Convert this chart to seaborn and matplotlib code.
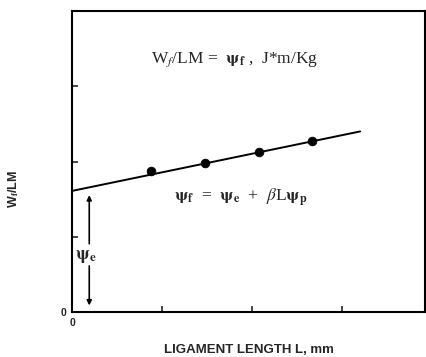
import matplotlib
matplotlib.use('Agg')
import matplotlib.pyplot as plt
import seaborn as sns
import pandas as pd

# measured points and the fitted straight line
lig_length = [0.88, 1.48, 2.08, 2.67]
wf_lm = [1.87, 1.98, 2.13, 2.27]
fit_x = [0.0, 3.2]
fit_y = [1.61, 2.40]
psi_e = 1.61

x_ticks = [0, 1, 2, 3]
y_ticks = [0, 1, 2, 3]
x_tick_labels = ['0', '', '', '']
y_tick_labels = ['0', '', '', '']

sns.set_style('ticks')
plt.rcParams['font.family'] = ['Liberation Sans', 'DejaVu Sans']
plt.rcParams['mathtext.fontset'] = 'stix'

pts = pd.DataFrame({'L': lig_length, 'W': wf_lm})
fit = pd.DataFrame({'L': fit_x, 'W': fit_y})

fig = plt.figure(figsize=(4.27, 3.57), dpi=100)
ax = fig.add_axes([0.169, 0.126, 0.826, 0.843])

sns.lineplot(data=fit, x='L', y='W', color='black', linewidth=1.4, ax=ax)
sns.scatterplot(data=pts, x='L', y='W', color='black', s=40, edgecolor='black', zorder=3, ax=ax)

ax.set_xlim(0, 3.92)
ax.set_ylim(0, 4.0)
ax.set_xticks(x_ticks)
ax.set_xticklabels(x_tick_labels, fontsize=7.5, fontweight='bold')
ax.set_yticks(y_ticks)
ax.set_yticklabels(y_tick_labels, fontsize=7.5, fontweight='bold')
ax.tick_params(direction='in', length=4, width=1.2, pad=4)
for s in ax.spines.values():
    s.set_linewidth(1.5)
    s.set_color('black')

ax.set_xlabel('LIGAMENT LENGTH L, mm', fontsize=9.5, fontweight='bold', labelpad=12)
ax.set_ylabel(r'W$_\mathbf{f}$/LM', fontsize=9, fontweight='bold')
ax.yaxis.set_label_coords(-0.145, 0.41)

ax.text(1.81, 3.36, r'W$_f$/LM =  $\mathbf{\psi_f}$ ,  J*m/Kg', fontsize=12.5,
        family='Liberation Serif', ha='center', va='center')
ax.text(1.88, 1.52, r'$\mathbf{\psi_f}$  =  $\mathbf{\psi_e}$  +  $\beta$L$\mathbf{\psi_p}$', fontsize=12.5,
        family='Liberation Serif', ha='center', va='center')

# double arrow marking the intercept
ax.annotate('', xy=(0.19, psi_e - 0.02), xytext=(0.19, 0.87),
            arrowprops=dict(arrowstyle='-|>', color='black', lw=1.2, mutation_scale=7))
ax.annotate('', xy=(0.19, 0.05), xytext=(0.19, 0.65),
            arrowprops=dict(arrowstyle='-|>', color='black', lw=1.2, mutation_scale=7))
ax.text(0.15, 0.74, r'$\mathbf{\psi_e}$', fontsize=13, ha='center', va='center')

fig.savefig('out.png', dpi=100)
